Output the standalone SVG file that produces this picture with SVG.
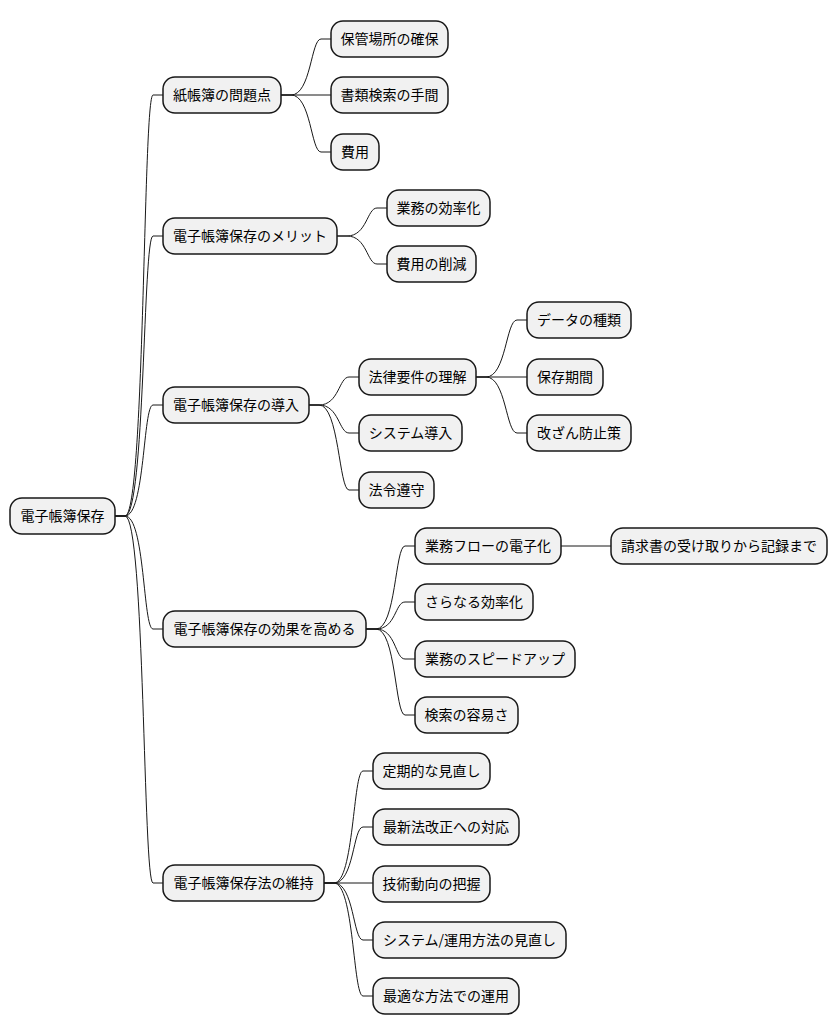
<svg xmlns="http://www.w3.org/2000/svg" width="838" height="1034" viewBox="0 0 838 1034">
<style>
.n rect{fill:#F1F1F1;stroke:#181818;stroke-width:1.5}
.n text{font-family:"Noto Sans CJK JP","Liberation Sans",sans-serif;font-size:14px;fill:#000;text-anchor:middle}
.c path{fill:none;stroke:#181818;stroke-width:1}
</style>
<rect width="838" height="1034" fill="#fff"/>
<g class="c">
<path d="M115,516 L125,516 C145,516 143,95 153,95 L163,95"/>
<path d="M115,516 L125,516 C145,516 143,236 153,236 L163,236"/>
<path d="M115,516 L125,516 C145,516 143,405 153,405 L163,405"/>
<path d="M115,516 L125,516 C145,516 143,629 153,629 L163,629"/>
<path d="M115,516 L125,516 C145,516 143,883 153,883 L163,883"/>
<path d="M281,95 L291,95 C311,95 311,39 321,39 L331,39"/>
<path d="M281,95 L331,95"/>
<path d="M281,95 L291,95 C311,95 311,152 321,152 L331,152"/>
<path d="M337,236 L347,236 C367,236 367,208 377,208 L387,208"/>
<path d="M337,236 L347,236 C367,236 367,264 377,264 L387,264"/>
<path d="M309,405 L319,405 C339,405 339,377 349,377 L359,377"/>
<path d="M309,405 L319,405 C339,405 339,433 349,433 L359,433"/>
<path d="M309,405 L319,405 C339,405 339,490 349,490 L359,490"/>
<path d="M476,377 L486,377 C506,377 506,320 517,320 L527,320"/>
<path d="M476,377 L527,377"/>
<path d="M476,377 L486,377 C506,377 506,433 517,433 L527,433"/>
<path d="M366,629 L376,629 C396,629 395,546 405,546 L415,546"/>
<path d="M366,629 L376,629 C396,629 395,602 405,602 L415,602"/>
<path d="M366,629 L376,629 C396,629 395,659 405,659 L415,659"/>
<path d="M366,629 L376,629 C396,629 395,715 405,715 L415,715"/>
<path d="M561,546 L611,546"/>
<path d="M324,883 L334,883 C354,883 353,771 363,771 L373,771"/>
<path d="M324,883 L334,883 C354,883 353,827 363,827 L373,827"/>
<path d="M324,883 L373,883"/>
<path d="M324,883 L334,883 C354,883 353,940 363,940 L373,940"/>
<path d="M324,883 L334,883 C354,883 353,996 363,996 L373,996"/>
</g>
<g id="root" class="n"><rect x="10" y="498" width="105" height="36" rx="12"/><text x="62.5" y="521">電子帳簿保存</text></g>
<g id="n1" class="n"><rect x="163" y="77" width="118" height="36" rx="12"/><text x="222" y="100">紙帳簿の問題点</text></g>
<g id="n2" class="n"><rect x="163" y="218" width="174" height="36" rx="12"/><text x="250" y="241">電子帳簿保存のメリット</text></g>
<g id="n3" class="n"><rect x="163" y="387" width="146" height="36" rx="12"/><text x="236" y="410">電子帳簿保存の導入</text></g>
<g id="n4" class="n"><rect x="163" y="611" width="203" height="36" rx="12"/><text x="264.5" y="634">電子帳簿保存の効果を高める</text></g>
<g id="n5" class="n"><rect x="163" y="865" width="161" height="36" rx="12"/><text x="243.5" y="888">電子帳簿保存法の維持</text></g>
<g id="n11" class="n"><rect x="331" y="21" width="117" height="36" rx="12"/><text x="389.5" y="44">保管場所の確保</text></g>
<g id="n12" class="n"><rect x="331" y="77" width="117" height="36" rx="12"/><text x="389.5" y="100">書類検索の手間</text></g>
<g id="n13" class="n"><rect x="331" y="134" width="48" height="36" rx="12"/><text x="355" y="157">費用</text></g>
<g id="n21" class="n"><rect x="387" y="190" width="103" height="36" rx="12"/><text x="438.5" y="213">業務の効率化</text></g>
<g id="n22" class="n"><rect x="387" y="246" width="89" height="36" rx="12"/><text x="431.5" y="269">費用の削減</text></g>
<g id="n31" class="n"><rect x="359" y="359" width="117" height="36" rx="12"/><text x="417.5" y="382">法律要件の理解</text></g>
<g id="n32" class="n"><rect x="359" y="415" width="103" height="36" rx="12"/><text x="410.5" y="438">システム導入</text></g>
<g id="n33" class="n"><rect x="359" y="472" width="75" height="36" rx="12"/><text x="396.5" y="495">法令遵守</text></g>
<g id="n311" class="n"><rect x="527" y="302" width="104" height="36" rx="12"/><text x="579" y="325">データの種類</text></g>
<g id="n312" class="n"><rect x="527" y="359" width="76" height="36" rx="12"/><text x="565" y="382">保存期間</text></g>
<g id="n313" class="n"><rect x="527" y="415" width="104" height="36" rx="12"/><text x="579" y="438">改ざん防止策</text></g>
<g id="n41" class="n"><rect x="415" y="528" width="146" height="36" rx="12"/><text x="488" y="551">業務フローの電子化</text></g>
<g id="n411" class="n"><rect x="611" y="528" width="216" height="36" rx="12"/><text x="719" y="551">請求書の受け取りから記録まで</text></g>
<g id="n42" class="n"><rect x="415" y="584" width="118" height="36" rx="12"/><text x="474" y="607">さらなる効率化</text></g>
<g id="n43" class="n"><rect x="415" y="641" width="160" height="36" rx="12"/><text x="495" y="664">業務のスピードアップ</text></g>
<g id="n44" class="n"><rect x="415" y="697" width="103" height="36" rx="12"/><text x="466.5" y="720">検索の容易さ</text></g>
<g id="n51" class="n"><rect x="373" y="753" width="117" height="36" rx="12"/><text x="431.5" y="776">定期的な見直し</text></g>
<g id="n52" class="n"><rect x="373" y="809" width="146" height="36" rx="12"/><text x="446" y="832">最新法改正への対応</text></g>
<g id="n53" class="n"><rect x="373" y="866" width="117" height="36" rx="12"/><text x="431.5" y="889">技術動向の把握</text></g>
<g id="n54" class="n"><rect x="373" y="922" width="193" height="36" rx="12"/><text x="469.5" y="945">システム/運用方法の見直し</text></g>
<g id="n55" class="n"><rect x="373" y="978" width="146" height="36" rx="12"/><text x="446" y="1001">最適な方法での運用</text></g>
</svg>
